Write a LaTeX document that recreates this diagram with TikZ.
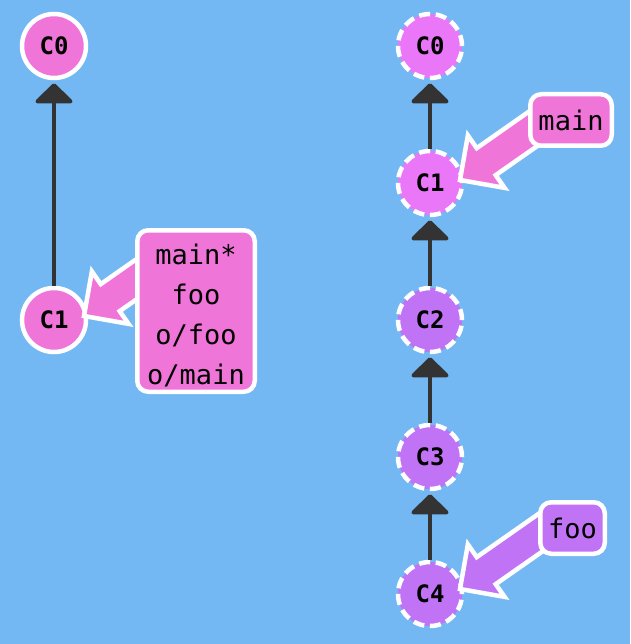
\documentclass[tikz,border=0pt]{standalone}
\usepackage{fontspec}
\setmonofont{DejaVu Sans Mono}
\usetikzlibrary{arrows.meta,calc}
\definecolor{bgblue}{HTML}{74B8F3}
\definecolor{pinkA}{HTML}{F075D8}
\definecolor{magentaA}{HTML}{EA76F8}
\definecolor{purpleA}{HTML}{C074F5}
\definecolor{linkgray}{HTML}{333333}

% fat pointer arrow: #1 = tip coordinate, #2 = fill colour
\newcommand\refpointer[2]{%
  \begin{scope}[shift={(#1)}, rotate=35]
    \draw[line width=4.5pt, draw=white, fill=#2, line join=miter]
      (0,0) -- (32,-32) -- (32,-16.5) -- (115,-16.5) -- (115,16.5) -- (32,16.5) -- (32,32) -- cycle;
  \end{scope}}

\begin{document}
\begin{tikzpicture}[x=1pt,y=-1pt,
  commit/.style={circle, minimum size=64pt, inner sep=0pt, line width=4.5pt, draw=white,
    font=\ttfamily\bfseries\fontsize{24}{24}\selectfont},
  ghost/.style={commit, dash pattern=on 11pt off 5.75pt},
  link/.style={line width=4pt, draw=linkgray,
    -{Triangle[width=42pt,length=21pt,round]}, shorten >=3pt},
  tag/.style={rounded corners=11pt, line width=4.5pt, draw=white, inner sep=0pt,
    font=\ttfamily\fontsize{27}{40}\selectfont, align=center},
]
\fill[bgblue] (0,0) rectangle (630,644);
\useasboundingbox (0,0) rectangle (630,644);

% local repository
\node[commit, fill=pinkA] (lc0) at (54,46) {C0};
\node[commit, fill=pinkA] (lc1) at (54,320) {C1};
\draw[link] (lc1) -- (lc0);

% remote repository
\node[ghost, fill=magentaA] (rc0) at (430,46) {C0};
\node[ghost, fill=magentaA] (rc1) at (430,183) {C1};
\node[ghost, fill=purpleA] (rc2) at (430,320) {C2};
\node[ghost, fill=purpleA] (rc3) at (430,457) {C3};
\node[ghost, fill=purpleA] (rc4) at (430,594) {C4};
\draw[link] (rc1) -- (rc0);
\draw[link] (rc2) -- (rc1);
\draw[link] (rc3) -- (rc2);
\draw[link] (rc4) -- (rc3);

% branch pointers
\coordinate (tl) at ($(lc1)+(30,-4)$);
\coordinate (tm) at ($(rc1)+(30,-3)$);
\coordinate (tf) at ($(rc4)+(30,-5)$);
\refpointer{tl}{pinkA}
\refpointer{tm}{pinkA}
\refpointer{tf}{purpleA}

\node[tag, fill=pinkA, minimum width=117.5pt, minimum height=161.5pt] (bl) at (196,311) {};
\node[font=\ttfamily\fontsize{27}{40}\selectfont, align=center, inner sep=0pt] (blt) at (196,315)
  {main*\\foo\\o/foo\\o/main};
\node[tag, fill=pinkA, minimum width=81.5pt, minimum height=51.5pt] (bm) at (571,120) {main};
\node[tag, fill=purpleA, minimum width=64.5pt, minimum height=51.5pt] (bf) at (572.5,528) {foo};
\end{tikzpicture}
\end{document}
